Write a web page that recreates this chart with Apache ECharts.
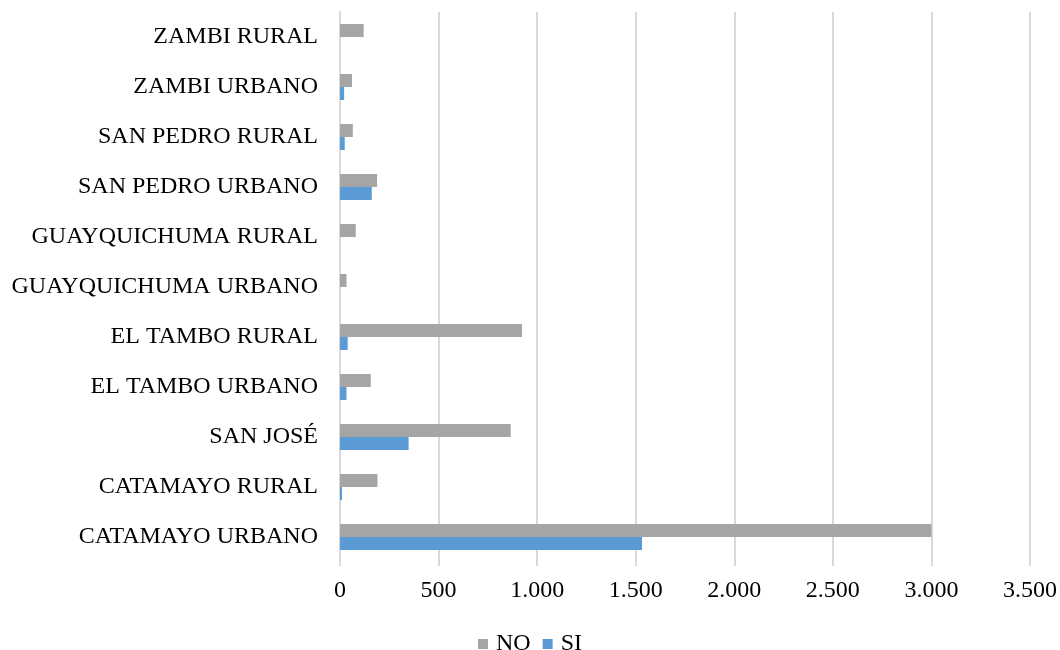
<!DOCTYPE html>
<html>
<head>
<meta charset="utf-8">
<script src="https://cdn.jsdelivr.net/npm/echarts@6/dist/echarts.min.js"></script>
<style>
html,body{margin:0;padding:0;background:#fff;}
#chart{width:1060px;height:650px;}
</style>
</head>
<body>
<div id="chart"></div>
<script>
const categories = ["CATAMAYO URBANO","CATAMAYO RURAL","SAN JOSÉ","EL TAMBO URBANO","EL TAMBO RURAL","GUAYQUICHUMA URBANO","GUAYQUICHUMA RURAL","SAN PEDRO URBANO","SAN PEDRO RURAL","ZAMBI URBANO","ZAMBI RURAL"];
const noValues = [3000, 190, 866, 156, 923, 33, 80, 188, 65, 61, 120];
const siValues = [1532, 10, 348, 33, 39, 0, 0, 161, 24, 21, 0];
const xTicks = [0, 500, 1000, 1500, 2000, 2500, 3000, 3500];

const font = "'Liberation Serif','Times New Roman',serif";
const chart = echarts.init(document.getElementById('chart'), null, {renderer:'canvas'});
chart.setOption({
  animation:false,
  backgroundColor:'#fff',
  textStyle:{fontFamily:font},
  legend:{
    data:['NO','SI'],
    top:627,
    left:'center',
    itemWidth:10,
    itemHeight:10,
    itemGap:12,
    icon:'rect',
    textStyle:{fontFamily:font,fontSize:24,color:'#000',padding:[0,0,0,3]}
  },
  grid:{left:340,right:28,top:12,bottom:88,containLabel:false},
  xAxis:{
    type:'value',
    min:xTicks[0],
    max:xTicks[xTicks.length-1],
    interval:500,
    axisLine:{show:false},
    axisTick:{show:true,length:4,lineStyle:{color:'#D9D9D9',width:2}},
    splitLine:{show:true,lineStyle:{color:'#D9D9D9',width:2}},
    axisLabel:{
      fontFamily:font,fontSize:24,color:'#000',margin:17,
      formatter:function(v){return v.toLocaleString('de-DE');}
    }
  },
  yAxis:{
    type:'category',
    data:categories,
    axisLine:{show:true,lineStyle:{color:'#D9D9D9',width:2}},
    axisTick:{show:false},
    axisLabel:{fontFamily:font,fontSize:24,color:'#000',margin:22}
  },
  series:[
    {name:'NO',type:'bar',data:noValues,barWidth:13,barGap:'0%',itemStyle:{color:'#A5A5A5'}},
    {name:'SI',type:'bar',data:siValues,barWidth:13,barGap:'0%',itemStyle:{color:'#5B9BD5'}}
  ]
});
</script>
</body>
</html>
